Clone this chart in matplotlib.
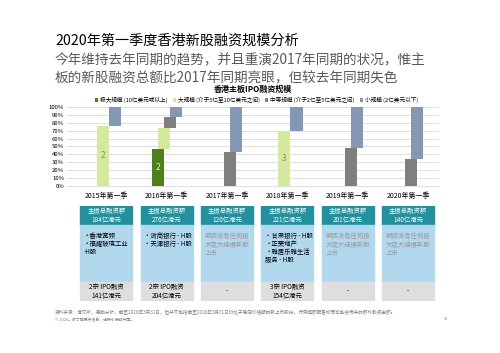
"""香港主板IPO融资规模 - 2020年第一季度"""
import matplotlib
matplotlib.use("Agg")
import matplotlib.pyplot as plt
import numpy as np
from matplotlib.patches import Rectangle, Patch

plt.rcParams["font.family"] = ["Noto Sans CJK SC", "DejaVu Sans"]

# ---- data ----
categories = ["2015年第一季", "2016年第一季", "2017年第一季",
              "2018年第一季", "2019年第一季", "2020年第一季"]
very_large = [0, 47, 0, 0, 0, 0]      # 极大规模 %
large = [76, 27, 0, 69, 0, 0]         # 大规模 %
medium = [0, 13, 43, 0, 48, 34]       # 中等规模 %
small = [24, 13, 57, 31, 52, 66]      # 小规模 %
very_large_n = ["", "2", "", "", "", ""]
large_n = ["2", "", "", "3", "", ""]

series_names = ["极大规模 (10亿美元或以上)", "大规模 (介于5亿至10亿美元之间)",
                "中等规模 (介于2亿至5亿美元之间)", "小规模 (2亿美元以下)"]
colors = ["#4f7f1b", "#d5e99c", "#7f7f7f", "#8497b5"]

totals = ["184亿港元", "276亿港元", "120亿港元", "221亿港元", "201亿港元", "140亿港元"]
deals = [["香港宽频", "福耀玻璃工业\n-H股"],
         ["浙商银行 - H股", "天津银行 - H股"],
         [],
         ["甘肃银行 - H股", "正荣地产", "雅居乐雅生活\n服务 - H股"],
         [],
         []]
ipo_summary = ["2宗 IPO融资\n141亿港元", "2宗 IPO融资\n204亿港元", "-",
               "3宗 IPO融资\n154亿港元", "-", "-"]
no_deal_text = "期间没有任何极\n大或大规模新股\n上市"

# ---- figure ----
fig = plt.figure(figsize=(5, 3.53), dpi=100)
fig.patch.set_facecolor("white")

fig.text(0.11, 0.884, "2020年第一季度香港新股融资规模分析", fontsize=10.2,
         color="black", va="center", ha="left")
fig.text(0.11, 0.830, "今年维持去年同期的趋势，并且重演2017年同期的状况，惟主",
         fontsize=9.8, color="#595959", va="center", ha="left")
fig.text(0.11, 0.779, "板的新股融资总额比2017年同期亮眼，但较去年同期失色",
         fontsize=9.8, color="#595959", va="center", ha="left")
fig.text(0.505, 0.748, "香港主板IPO融资规模", fontsize=5.8, fontweight="bold",
         va="center", ha="center")

ax = fig.add_axes([0.134, 0.473, 0.744, 0.224])
x = np.arange(len(categories))
width = 0.2
offsets = [-0.15, -0.05, 0.05, 0.15]
bottom = np.zeros(len(categories))
for vals, off, col in zip([very_large, large, medium, small], offsets, colors):
    vals = np.array(vals, dtype=float)
    ax.bar(x + off, vals, width, bottom=bottom, color=col, zorder=3)
    bottom = bottom + vals

for i in range(len(categories)):
    if very_large_n[i]:
        ax.text(x[i] + offsets[0], very_large[i] / 2, very_large_n[i],
                color="#e6e6e6", fontsize=6, ha="center", va="center", zorder=4)
    if large_n[i]:
        ax.text(x[i] + offsets[1], very_large[i] + large[i] / 2, large_n[i],
                color="#8c8c8c", fontsize=6, ha="center", va="center", zorder=4)

ax.set_xlim(-0.65, 5.51)
ax.set_ylim(0, 100)
ax.set_yticks(np.arange(0, 101, 10))
ax.set_yticklabels([f"{v}%" for v in range(0, 101, 10)], fontsize=4.3)
ax.set_xticks(x)
ax.set_xticklabels(categories, fontsize=5)
ax.tick_params(axis="both", length=0, pad=2)
ax.tick_params(axis="x", pad=4)
ax.grid(axis="y", color="#d9d9d9", linewidth=0.6, zorder=0)
for s in ["top", "right", "left"]:
    ax.spines[s].set_visible(False)
ax.spines["bottom"].set_color("#d9d9d9")
ax.spines["bottom"].set_linewidth(0.6)

handles = [Patch(facecolor=c) for c in colors]
fig.legend(handles, series_names, loc="center", bbox_to_anchor=(0.513, 0.717),
           ncol=4, fontsize=4.1, frameon=False, handlelength=0.55,
           handleheight=0.55, handletextpad=0.3, columnspacing=1.0)

# ---- info boxes below the chart ----
bx = fig.add_axes([0.134, 0.147, 0.744, 0.269], sharex=ax)
bx.set_ylim(95, 0)
bx.axis("off")
box_w = 0.86
for i in range(len(categories)):
    left = x[i] - box_w / 2
    bx.add_patch(Rectangle((left, 0), box_w, 19, color="#23909e"))
    bx.add_patch(Rectangle((left, 19), box_w, 57, color="#b2d8ee"))
    bx.add_patch(Rectangle((left, 76), box_w, 19, color="#dedede"))
    bx.text(x[i], 9.5, "主板总融资额\n" + totals[i], color="white", fontsize=4.6,
            ha="center", va="center", linespacing=1.1)
    if deals[i]:
        y = 26
        for d in deals[i]:
            bx.text(left + 0.06, y, "•" + d, fontsize=4.6, color="black",
                    ha="left", va="top", linespacing=1.05)
            y += 8 * (d.count("\n") + 1)
    else:
        bx.text(left + 0.06, 26, no_deal_text, fontsize=4.6, color="#9a9a9a",
                style="italic", ha="left", va="top", linespacing=1.1)
    bx.text(x[i], 85.5, ipo_summary[i], fontsize=4.6, color="black",
            ha="center", va="center", linespacing=1.1)

# ---- footer ----
fig.text(0.11, 0.116,
         "资料来源：港交所，德勤分析，截至2020年3月31日，但并不包括截至2020年3月31日仍处于稳定价格期的新上市股份，"
         "行使超额配售权而可能会带来的额外融资金额。",
         fontsize=3.3, color="#7f7f7f", va="center", ha="left")
fig.text(0.11, 0.094, "© 2020。欲了解更多信息，请联系德勤中国。", fontsize=2.8,
         color="#7f7f7f", va="center", ha="left")
fig.text(0.888, 0.097, "38", fontsize=2.8, color="#7f7f7f", va="center", ha="left")

fig.savefig("out.png", dpi=100, facecolor="white")
